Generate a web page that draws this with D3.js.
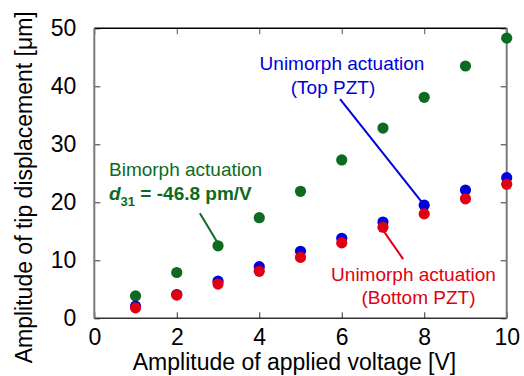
<!DOCTYPE html>
<html>
<head>
<meta charset="utf-8">
<script src="https://cdn.jsdelivr.net/npm/d3@7"></script>
<style>
  body { margin: 0; background: #fff; }
  text { font-family: Arial, "Liberation Sans", sans-serif; }
</style>
</head>
<body>
<div id="chart"></div>
<script>
// applied voltage amplitude [V]
const voltages = [1, 2, 3, 4, 5, 6, 7, 8, 9, 10]
// tip displacement amplitude [um]
const bimorph = [3.85, 7.9, 12.5, 17.35, 21.9, 27.3, 32.8, 38.1, 43.5, 48.3]
const topPZT = [2.1, 4.1, 6.4, 8.9, 11.55, 13.8, 16.6, 19.5, 22.1, 24.25]
const bottomPZT = [1.8, 4.0, 5.9, 8.1, 10.5, 13.0, 15.7, 18.0, 20.6, 23.1]

const xTicks = [0, 2, 4, 6, 8, 10]
const yTicks = [0, 10, 20, 30, 40, 50]

const width = 524
const height = 376
const margin = { top: 28.3, right: 17.3, bottom: 57.7, left: 94.3 }
const innerW = width - margin.left - margin.right
const innerH = height - margin.top - margin.bottom

const GREEN = "#0d6b21"
const BLUE = "#0000dc"
const RED = "#e00012"

const svg = d3.select("#chart")
  .append("svg")
    .attr("width", width)
    .attr("height", height)

const g = svg.append("g")
  .attr("transform", `translate(${margin.left},${margin.top})`)

const x = d3.scaleLinear().domain([0, 10]).range([0, innerW])
const y = d3.scaleLinear().domain([0, 50]).range([innerH, 0])

// ticks on all four sides, pointing inward
const tickLen = 6
g.append("g")
  .attr("transform", `translate(0,${innerH})`)
  .call(d3.axisBottom(x).tickValues(xTicks).tickSize(-tickLen).tickPadding(10))
  .call(a => a.select(".domain").remove())
  .call(a => a.selectAll("line").attr("stroke", "#333"))
  .call(a => a.selectAll("text").attr("font-size", 23).attr("fill", "#000").attr("dy", "0.71em"))
g.append("g")
  .call(d3.axisTop(x).tickValues(xTicks).tickSize(-tickLen).tickFormat(""))
  .call(a => a.select(".domain").remove())
  .call(a => a.selectAll("line").attr("stroke", "#555"))
g.append("g")
  .call(d3.axisLeft(y).tickValues(yTicks).tickSize(-tickLen).tickPadding(18))
  .call(a => a.select(".domain").remove())
  .call(a => a.selectAll("line").attr("stroke", "#333"))
  .call(a => a.selectAll("text").attr("font-size", 23).attr("fill", "#000"))
g.append("g")
  .attr("transform", `translate(${innerW},0)`)
  .call(d3.axisRight(y).tickValues(yTicks).tickSize(-tickLen).tickFormat(""))
  .call(a => a.select(".domain").remove())
  .call(a => a.selectAll("line").attr("stroke", "#333"))

// frame
g.append("line").attr("x1", 0).attr("x2", innerW).attr("y1", 0).attr("y2", 0)
  .attr("stroke", "#000").attr("stroke-width", 1.5)
g.append("line").attr("x1", 0).attr("x2", innerW).attr("y1", innerH).attr("y2", innerH)
  .attr("stroke", "#333").attr("stroke-width", 1.5)
g.append("line").attr("x1", 0).attr("x2", 0).attr("y1", 0).attr("y2", innerH)
  .attr("stroke", "#7a7a7a").attr("stroke-width", 2)
g.append("line").attr("x1", innerW).attr("x2", innerW).attr("y1", 0).attr("y2", innerH)
  .attr("stroke", "#7a7a7a").attr("stroke-width", 2)

// axis titles
svg.append("text")
  .attr("x", margin.left + innerW / 2 - 6)
  .attr("y", 370)
  .attr("text-anchor", "middle")
  .attr("font-size", 23)
  .text("Amplitude of applied voltage [V]")
svg.append("text")
  .attr("transform", `translate(32,${margin.top + innerH / 2 + 14}) rotate(-90)`)
  .attr("text-anchor", "middle")
  .attr("font-size", 23)
  .text("Amplitude of tip displacement [\u03bcm]")

// leader lines (data coordinates)
const leaders = [
  { color: BLUE, from: [5.96, 37.8], to: [8, 19.5] },
  { color: GREEN, from: [2.56, 18.1], to: [3, 12.9] },
  { color: RED, from: [7.0, 15.2], to: [7.49, 10.2] }
]
g.selectAll(".leader")
  .data(leaders)
  .join("line")
    .attr("class", "leader")
    .attr("x1", d => x(d.from[0]))
    .attr("y1", d => y(d.from[1]))
    .attr("x2", d => x(d.to[0]))
    .attr("y2", d => y(d.to[1]))
    .attr("stroke", d => d.color)
    .attr("stroke-width", 2)

// markers
const series = [
  { values: bimorph, color: GREEN },
  { values: topPZT, color: BLUE },
  { values: bottomPZT, color: RED }
]
series.forEach(s => {
  g.append("g")
    .selectAll("circle")
    .data(voltages)
    .join("circle")
      .attr("cx", d => x(d))
      .attr("cy", (d, i) => y(s.values[i]))
      .attr("r", 5.6)
      .attr("fill", s.color)
})

// labels
const label = (tx, ty, txt, color, anchor) => svg.append("text")
  .attr("x", tx).attr("y", ty)
  .attr("text-anchor", anchor)
  .attr("font-size", 19)
  .attr("fill", color)
  .text(txt)

label(342, 70, "Unimorph actuation", BLUE, "middle")
label(333, 93.5, "(Top PZT)", BLUE, "middle")
label(109, 176, "Bimorph actuation", GREEN, "start")
label(413.5, 281, "Unimorph actuation", RED, "middle")
label(418.5, 304, "(Bottom PZT)", RED, "middle")

const d31 = svg.append("text")
  .attr("x", 109).attr("y", 199.5)
  .attr("font-size", 19)
  .attr("font-weight", "bold")
  .attr("fill", GREEN)
d31.append("tspan").attr("font-style", "italic").text("d")
d31.append("tspan").attr("font-size", 13).attr("dy", 6).text("31")
d31.append("tspan").attr("dy", -6).text(" = -46.8 pm/V")
</script>
</body>
</html>
